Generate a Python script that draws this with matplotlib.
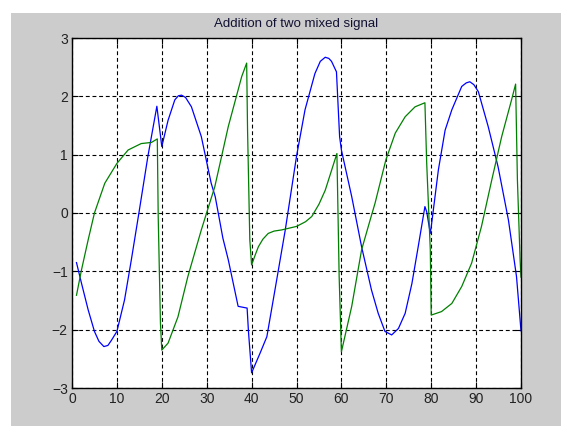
import matplotlib.pyplot as plt
from matplotlib.patches import Rectangle

# blue signal (x, y)
blue_x = [1, 2.1, 3.6, 5, 6, 7.1, 8, 8.8, 10, 11.7, 13.2, 14.9, 16.9, 18.9, 20, 21.4, 22.9,
          23.7, 24.4, 25.3, 26.6, 28.8, 31, 31.9, 33.6, 34.8, 37, 39, 39.3, 40, 41.9, 43.4,
          45.2, 47.5, 50, 51.9, 54.1, 55.3, 56.4, 57.2, 57.8, 58.9, 59.6, 60, 62.3, 64.5,
          66.7, 68.2, 69.7, 71.2, 72.7, 74.2, 75.7, 77.1, 78.6, 79, 79.8, 80.1, 81.6, 83.1,
          84.6, 86.8, 87.8, 88.6, 89.5, 90.5, 92.7, 94.9, 97.2, 99, 100]
blue_y = [-0.85, -1.2, -1.66, -2.03, -2.2, -2.29, -2.27, -2.18, -2.03, -1.49, -0.81, 0.0,
          0.97, 1.83, 1.14, 1.59, 1.94, 2.01, 2.02, 1.98, 1.82, 1.31, 0.51, 0.28, -0.43,
          -0.8, -1.6, -1.63, -2.03, -2.74, -2.4, -2.12, -1.32, -0.29, 0.97, 1.77, 2.39, 2.6,
          2.67, 2.65, 2.6, 2.42, 1.31, 1.08, 0.28, -0.58, -1.32, -1.72, -2.03, -2.09, -1.98,
          -1.72, -1.21, -0.58, 0.11, 0.02, -0.35, -0.18, 0.74, 1.42, 1.77, 2.17, 2.23, 2.25,
          2.2, 2.08, 1.48, 0.79, -0.12, -1.09, -2.02]

# green signal (x, y)
green_x = [1, 2.1, 3.6, 5, 7.3, 10, 12.5, 15.4, 17.7, 19, 19.2, 19.7, 20, 21.4, 23.6, 25.8,
           28.8, 31.8, 34.8, 37.8, 38.9, 39.1, 39.6, 40, 40.8, 41.5, 42.5, 43.7, 45, 46.7,
           50, 52, 53.4, 55, 56.4, 59, 59.5, 60, 62.3, 64.5, 66.4, 67.5, 69.9, 72, 74.2,
           76.4, 78.6, 79, 79.8, 80, 82.3, 84.6, 86.8, 89, 91.2, 93.5, 95.7, 97.9, 98.8,
           99.2, 99.8, 100]
green_y = [-1.41, -0.98, -0.46, 0.0, 0.51, 0.85, 1.08, 1.19, 1.21, 1.27, -0.06, -1.89, -2.35,
           -2.23, -1.78, -1.09, -0.29, 0.45, 1.48, 2.34, 2.57, 1.42, -0.46, -0.89, -0.72,
           -0.58, -0.45, -0.35, -0.31, -0.29, -0.23, -0.15, -0.06, 0.15, 0.39, 1.02, -1.09,
           -2.38, -1.6, -0.63, -0.12, 0.17, 0.91, 1.37, 1.65, 1.82, 1.89, 0.85, -0.63, -1.75,
           -1.69, -1.55, -1.26, -0.86, -0.23, 0.57, 1.31, 1.94, 2.21, 0.57, -0.8, -1.1]

x_ticks = list(range(0, 101, 10))
y_ticks = [-3, -2, -1, 0, 1, 2, 3]

plt.rcParams['font.family'] = ['Liberation Sans', 'DejaVu Sans']

fig = plt.figure(figsize=(5.61, 4.26), dpi=100)
fig.patch.set_facecolor('white')
# gray MATLAB figure background
bg = Rectangle((11 / 561, 0), 1 - 11 / 561, 1 - 13 / 426,
               transform=fig.transFigure, facecolor='#cccccc',
               edgecolor='none', zorder=-10)
fig.add_artist(bg)

ax = fig.add_axes([72 / 561, 38 / 426, 449 / 561, 350 / 426])
ax.set_facecolor('white')
ax.plot(blue_x, blue_y, color='#0000ff', lw=0.9)
ax.plot(green_x, green_y, color='#008000', lw=0.9)

ax.set_xlim(0, 100)
ax.set_ylim(-3, 3)
ax.set_xticks(x_ticks)
ax.set_yticks(y_ticks)
ax.tick_params(direction='in', length=4, labelsize=10, colors='black',
               labelcolor='#222222', top=True, right=True, pad=3)
ax.grid(True, color='black', linestyle=(0, (3.5, 2.5)), linewidth=0.8)
for s in ax.spines.values():
    s.set_linewidth(1.0)
    s.set_color('black')

ax.set_title('Addition of two mixed signal', fontsize=9.5, color='#111133', pad=8)

fig.savefig('out.png', dpi=100, facecolor=fig.get_facecolor())
